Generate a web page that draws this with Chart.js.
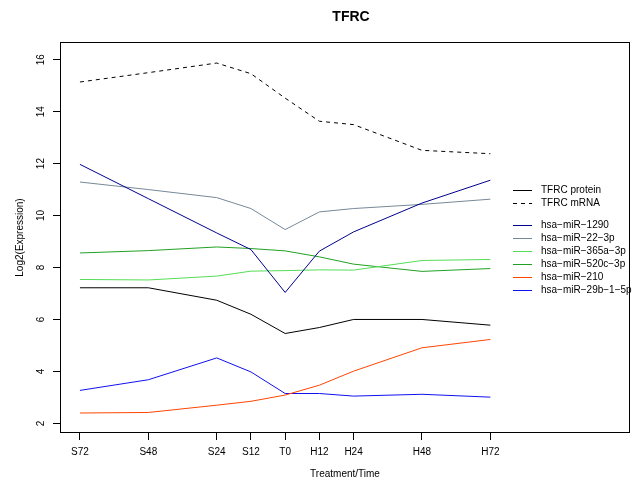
<!DOCTYPE html>
<html>
<head>
<meta charset="utf-8">
<title>TFRC</title>
<script src="https://cdn.jsdelivr.net/npm/chart.js@4.4.1/dist/chart.umd.min.js"></script>
<style>
  html, body { margin: 0; padding: 0; background: #fff; }
  #wrap { width: 635px; height: 484px; }
</style>
</head>
<body>
<div id="wrap"><canvas id="myChart" width="635" height="484"></canvas></div>
<script>
// Eixo x: horas relativas (S = antes, H = depois de T0)
const hours = [-72, -48, -24, -12, 0, 12, 24, 48, 72];
const timeLabels = ["S72", "S48", "S24", "S12", "T0", "H12", "H24", "H48", "H72"];
const yTicks = [2, 4, 6, 8, 10, 12, 14, 16];

// Valores (Log2)
const tfrcProtein = [7.22, 7.22, 6.74, 6.20, 5.46, 5.69, 6.00, 6.00, 5.78];
const tfrcMrna = [15.14, 15.50, 15.87, 15.46, 14.52, 13.63, 13.50, 12.51, 12.38];
const mir1290 = [11.97, 10.65, 9.33, 8.69, 7.04, 8.63, 9.37, 10.48, 11.36];
const mir22 = [11.29, 11.00, 10.69, 10.27, 9.46, 10.14, 10.27, 10.43, 10.63];
const mir365a = [7.54, 7.52, 7.67, 7.86, 7.88, 7.91, 7.90, 8.27, 8.31];
const mir520c = [8.56, 8.65, 8.79, 8.73, 8.64, 8.41, 8.13, 7.85, 7.96];
const mir210 = [2.40, 2.42, 2.70, 2.85, 3.09, 3.47, 4.01, 4.91, 5.23];
const mir29b = [3.27, 3.68, 4.52, 3.98, 3.15, 3.15, 3.05, 3.12, 3.01];

const FONT = "'Liberation Sans', Arial, Helvetica, sans-serif";

function serie(label, values, color, dash) {
  return {
    label: label,
    data: values.map((v, i) => ({ x: hours[i], y: v })),
    borderColor: color,
    backgroundColor: color,
    borderWidth: 1,
    borderDash: dash || [],
    pointRadius: 0,
    tension: 0,
    fill: false,
  };
}

const datasets = [
  serie("TFRC protein", tfrcProtein, "#000000"),
  serie("TFRC mRNA", tfrcMrna, "#000000", [4, 4]),
  serie("hsa-miR-1290", mir1290, "#00008B"),
  serie("hsa-miR-22-3p", mir22, "#778899"),
  serie("hsa-miR-365a-3p", mir365a, "#55DD55"),
  serie("hsa-miR-520c-3p", mir520c, "#22A022"),
  serie("hsa-miR-210", mir210, "#FF4500"),
  serie("hsa-miR-29b-1-5p", mir29b, "#1010EE"),
];

// Moldura, rótulos do eixo y girados, título e legenda no estilo do R
const estiloR = {
  id: "estiloR",
  afterDraw(chart) {
    const { ctx, chartArea: a, scales } = chart;
    ctx.save();
    ctx.strokeStyle = "#000";
    ctx.lineWidth = 1;
    ctx.strokeRect(a.left + 0.5, a.top + 0.5, a.right - a.left - 1, a.bottom - a.top - 1);

    ctx.fillStyle = "#000";
    ctx.font = "10px " + FONT;
    ctx.textAlign = "center";
    ctx.textBaseline = "middle";
    yTicks.forEach((t) => {
      const y = scales.y.getPixelForValue(t);
      ctx.save();
      ctx.translate(41, y);
      ctx.rotate(-Math.PI / 2);
      ctx.fillText(String(t), 0, 0);
      ctx.restore();
    });

    ctx.font = "bold 14px " + FONT;
    ctx.fillText("TFRC", 351, 17);

    // legenda
    ctx.font = "10px " + FONT;
    ctx.textAlign = "left";
    const linhas = [190, 203, null, 225, 238, 251, 264, 277, 290];
    let k = 0;
    linhas.forEach((y) => {
      if (y === null) return;
      const ds = datasets[k++];
      ctx.beginPath();
      ctx.strokeStyle = ds.borderColor;
      ctx.setLineDash(ds.borderDash);
      ctx.moveTo(513, y + 0.5);
      ctx.lineTo(532, y + 0.5);
      ctx.stroke();
      ctx.setLineDash([]);
      ctx.fillText(ds.label.replace(/-/g, "\u2212"), 541, y);
    });
    ctx.restore();
  },
};

new Chart(document.getElementById("myChart"), {
  type: "line",
  data: { datasets: datasets },
  plugins: [estiloR],
  options: {
    responsive: false,
    animation: false,
    devicePixelRatio: 1,
    layout: { padding: { top: 42, right: 5, left: 0, bottom: 0 } },
    plugins: {
      legend: { display: false },
      title: { display: false },
      tooltip: { enabled: false },
    },
    scales: {
      x: {
        type: "linear",
        min: -79,
        max: 121,
        afterBuildTicks: (scale) => {
          scale.ticks = hours.map((h) => ({ value: h }));
        },
        afterFit: (scale) => {
          scale.height = 51;
        },
        ticks: {
          autoSkip: false,
          maxRotation: 0,
          padding: 6,
          color: "#000",
          font: { family: FONT, size: 10 },
          callback: (v) => timeLabels[hours.indexOf(v)],
        },
        grid: { drawOnChartArea: false, drawTicks: true, tickLength: 7, color: "#000" },
        border: { display: false },
        title: {
          display: true,
          text: "Treatment/Time",
          color: "#000",
          font: { family: FONT, size: 10 },
          padding: { top: 0, bottom: 4 },
        },
      },
      y: {
        type: "linear",
        min: 1.63,
        max: 16.68,
        afterBuildTicks: (scale) => {
          scale.ticks = yTicks.map((t) => ({ value: t }));
        },
        afterFit: (scale) => {
          scale.width = 60;
        },
        ticks: { display: false },
        grid: { drawOnChartArea: false, drawTicks: true, tickLength: 7, color: "#000" },
        border: { display: false },
        title: {
          display: true,
          text: "Log2(Expression)",
          color: "#000",
          font: { family: FONT, size: 10 },
          padding: { top: 14, bottom: 0 },
        },
      },
    },
  },
});
</script>
</body>
</html>
